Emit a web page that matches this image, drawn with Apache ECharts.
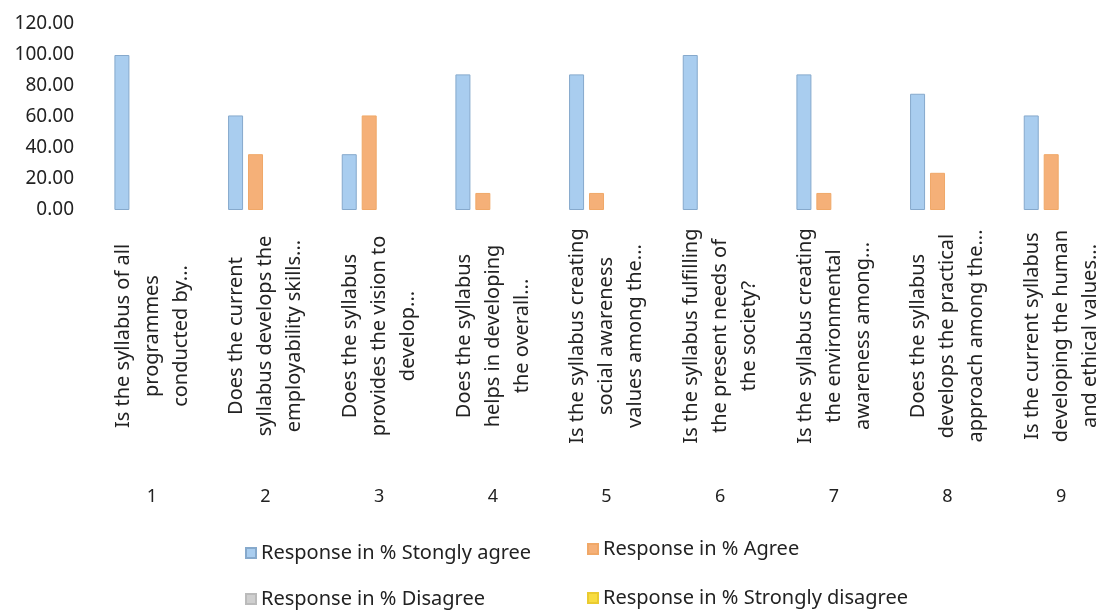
<!DOCTYPE html>
<html>
<head>
<meta charset="utf-8">
<script src="https://cdn.jsdelivr.net/npm/echarts@6/dist/echarts.min.js"></script>
<style>html,body{margin:0;padding:0;background:#fff}#c{width:1118px;height:612px}</style>
</head>
<body>
<div id="c"></div>
<script>
const questions = [
  "Is the syllabus of all\nprogrammes\nconducted by...",
  "Does the current\nsyllabus develops the\nemployability skills...",
  "Does the syllabus\nprovides the vision to\ndevelop...",
  "Does the syllabus\nhelps in developing\nthe overall...",
  "Is the syllabus creating\nsocial awareness\nvalues among the...",
  "Is the syllabus fulfilling\nthe present needs of\nthe society?",
  "Is the syllabus creating\nthe environmental\nawareness among...",
  "Does the syllabus\ndevelops the practical\napproach among the...",
  "Is the current syllabus\ndeveloping the human\nand ethical values..."
];
const numbers = ["1","2","3","4","5","6","7","8","9"];
const stronglyAgree = [100, 61, 36, 87.5, 87.5, 100, 87.5, 75, 61];
const agree = [0, 36, 61, 11, 11, 0, 11, 24, 36];
const disagree = [0, 0, 0, 0, 0, 0, 0, 0, 0];
const stronglyDisagree = [0, 0, 0, 0, 0, 0, 0, 0, 0];
const seriesNames = ["Response in % Stongly agree", "Response in % Agree", "Response in % Disagree", "Response in % Strongly disagree"];
const yTicks = [0, 20, 40, 60, 80, 100, 120];

const FONT = "Noto Sans";
const colors = ["#A9CDEF", "#F5B078", "#CFCFCF", "#F8DC40"];
const borders = ["#86A9CC", "#F0A868", "#BBBBBB", "#EACB30"];
const legendPos = [[240, 538], [582, 534], [240, 584], [582, 583]];
const chart = echarts.init(document.getElementById('c'));
const dataSets = [stronglyAgree, agree, disagree, stronglyDisagree];
chart.setOption({
  animation: false,
  textStyle: { fontFamily: FONT },
  grid: { left: 95, width: 1036, top: 24, bottom: 402 },
  xAxis: [
    {
      type: 'category', data: questions,
      axisLine: { show: false }, axisTick: { show: false },
      axisLabel: {
        interval: 0, rotate: 90, align: 'center', verticalAlign: 'middle',
        margin: 126, lineHeight: 29, fontSize: 20, color: '#222', fontFamily: FONT
      }
    },
    {
      type: 'category', data: numbers, position: 'bottom', offset: 274,
      axisLine: { show: false }, axisTick: { show: false },
      axisLabel: { interval: 0, fontSize: 18, color: '#222', fontFamily: FONT, margin: 4 }
    }
  ],
  yAxis: {
    type: 'value', min: yTicks[0], max: yTicks[yTicks.length - 1], interval: 20,
    axisLine: { show: false }, axisTick: { show: false }, splitLine: { show: false },
    axisLabel: { fontSize: 19, color: '#222', fontFamily: FONT, margin: 21,
      formatter: v => v.toFixed(2) }
  },
  legend: seriesNames.map((n, i) => ({
    data: [n], left: legendPos[i][0], top: legendPos[i][1],
    itemWidth: 10, itemHeight: 10, icon: 'rect',
    textStyle: { fontSize: 20, color: '#222', fontFamily: FONT }
  })),
  series: dataSets.map((d, i) => ({
    name: seriesNames[i], type: 'bar', xAxisIndex: 0,
    data: d.map(v => ({ value: v, itemStyle: { borderWidth: v > 0 ? 1 : 0 } })),
    barWidth: 15, barGap: '33%',
    itemStyle: { color: colors[i], borderColor: borders[i], borderWidth: 1 }
  }))
});
</script>
</body>
</html>
